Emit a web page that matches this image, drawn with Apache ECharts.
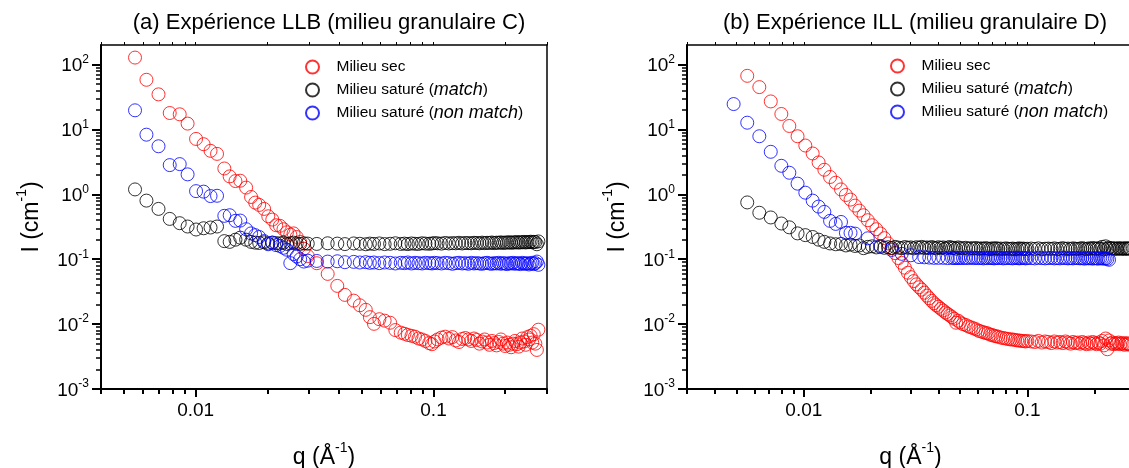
<!DOCTYPE html>
<html><head><meta charset="utf-8">
<script src="https://cdn.jsdelivr.net/npm/echarts@6/dist/echarts.min.js"></script>
<style>html,body{margin:0;padding:0;background:#fff}#c{width:1129px;height:468px}</style>
</head><body><div id="c"></div>
<script>
// ---------- DATA ----------
const seriesNames = ['Milieu sec', 'Milieu saturé (match)', 'Milieu saturé (non match)'];
const panelTitles = ['(a) Expérience LLB (milieu granulaire C)', '(b) Expérience ILL (milieu granulaire D)'];

// Panel (a) LLB : q (Å^-1)
const qA = [
  0.00556, 0.00621, 0.00698, 0.00778, 0.00857, 0.00925, 0.01004, 0.0108, 0.01155, 0.0123,
  0.0132, 0.0139, 0.0147, 0.0154, 0.0163, 0.0171, 0.0178, 0.0185, 0.0194, 0.0202,
  0.0210, 0.0218, 0.0226, 0.0234, 0.0242, 0.0250, 0.0258, 0.0266, 0.0275, 0.0285,
  0.0296,
  0.0323, 0.0359, 0.0394, 0.0424, 0.0462, 0.0490, 0.0519, 0.0540, 0.0562, 0.0592,
  0.0623, 0.0657, 0.0691, 0.0728, 0.0755, 0.0780, 0.0808, 0.0836, 0.0865, 0.0895,
  0.0925, 0.0959, 0.0985, 0.1010,
  0.104, 0.108, 0.112, 0.116, 0.120, 0.124, 0.128, 0.132, 0.136, 0.140,
  0.144, 0.148, 0.152, 0.156, 0.160, 0.164, 0.168, 0.172, 0.176, 0.180,
  0.184, 0.188, 0.192, 0.196, 0.200, 0.204, 0.208, 0.212, 0.216, 0.220,
  0.224, 0.228, 0.232, 0.236, 0.240, 0.244, 0.248, 0.252, 0.256, 0.260,
  0.264, 0.268, 0.272, 0.276
];
const secA = [
  128, 58.2, 34.7, 17.9, 17.1, 12.3, 7.14, 5.92, 4.68, 4.2,
  2.5, 1.89, 1.6, 1.62, 1.27, 0.91, 0.745, 0.686, 0.596, 0.459,
  0.408, 0.334, 0.327, 0.29, 0.26, 0.24, 0.25, 0.22, 0.185, 0.145,
  0.112,
  0.0868, 0.0594, 0.0388, 0.0282, 0.023, 0.0195, 0.0166, 0.0128, 0.0101, 0.0119,
  0.0113, 0.0105, 0.0081, 0.0074, 0.0071, 0.0068, 0.0066, 0.0064, 0.0060, 0.0058,
  0.0055, 0.0051, 0.0049, 0.0054,
  0.0058, 0.0062, 0.0064, 0.0060, 0.0063, 0.0056, 0.0053, 0.0059, 0.0061, 0.0058,
  0.0055, 0.0060, 0.0057, 0.0050, 0.0054, 0.0058, 0.0052, 0.0048, 0.0055, 0.0051,
  0.0047, 0.0053, 0.0058, 0.0050, 0.0046, 0.0052, 0.0048, 0.0044, 0.0050, 0.0055,
  0.0049, 0.0045, 0.0052, 0.0060, 0.0054, 0.0048, 0.0063, 0.0058, 0.0066, 0.0052,
  0.0070, 0.0050, 0.0040, 0.0082
];
const matchA = [
  1.19, 0.80, 0.596, 0.418, 0.359, 0.319, 0.287, 0.30, 0.308, 0.319,
  0.19, 0.185, 0.20, 0.215, 0.20, 0.185, 0.18, 0.178, 0.182, 0.175,
  0.18, 0.177, 0.175, 0.18, 0.172, 0.176, 0.18, 0.175, 0.172, 0.176,
  0.174,
  0.172, 0.176, 0.174, 0.171, 0.175, 0.173, 0.170, 0.174, 0.172, 0.175,
  0.171, 0.173, 0.176, 0.172, 0.174, 0.171, 0.175, 0.173, 0.172, 0.176,
  0.174, 0.173, 0.175, 0.177,
  0.176, 0.174, 0.178, 0.175, 0.177, 0.176, 0.179, 0.175, 0.178, 0.177,
  0.176, 0.179, 0.178, 0.176, 0.180, 0.177, 0.179, 0.178, 0.181, 0.177,
  0.180, 0.179, 0.182, 0.178, 0.181, 0.180, 0.183, 0.179, 0.182, 0.181,
  0.184, 0.180, 0.183, 0.182, 0.185, 0.181, 0.184, 0.183, 0.186, 0.182,
  0.185, 0.184, 0.170, 0.188
];
const nonA = [
  19.7, 8.3, 5.5, 2.82, 2.92, 2.03, 1.12, 1.10, 0.94, 0.95,
  0.466, 0.476, 0.39, 0.394, 0.29, 0.25, 0.235, 0.22, 0.19, 0.17,
  0.18, 0.165, 0.16, 0.15, 0.14, 0.087, 0.12, 0.11, 0.10, 0.092,
  0.095,
  0.094, 0.092, 0.093, 0.090, 0.091, 0.089, 0.090, 0.088, 0.089, 0.087,
  0.089, 0.088, 0.086, 0.088, 0.087, 0.089, 0.086, 0.088, 0.087, 0.086,
  0.088, 0.087, 0.086, 0.088,
  0.087, 0.086, 0.088, 0.087, 0.085, 0.087, 0.088, 0.086, 0.087, 0.085,
  0.088, 0.086, 0.087, 0.086, 0.085, 0.087, 0.088, 0.086, 0.085, 0.087,
  0.086, 0.088, 0.085, 0.087, 0.086, 0.084, 0.087, 0.086, 0.088, 0.085,
  0.087, 0.086, 0.084, 0.088, 0.086, 0.085, 0.087, 0.083, 0.086, 0.088,
  0.084, 0.087, 0.092, 0.082
];

// Panel (b) ILL : q (Å^-1)
const qB = [
  0.00485, 0.00558, 0.00632, 0.00711, 0.00793, 0.00861, 0.00937, 0.01015, 0.01095, 0.01164,
  0.01235, 0.0131, 0.01388, 0.01466, 0.01542, 0.01617, 0.01695, 0.0177, 0.01849, 0.01932,
  0.0202, 0.0211, 0.0220, 0.0229,
  0.0238, 0.0247, 0.0256, 0.0265, 0.0274, 0.0283, 0.0292, 0.0301, 0.0310, 0.0319,
  0.0328, 0.0337, 0.0346, 0.0355, 0.0364, 0.0373, 0.0382, 0.0391, 0.0400, 0.0410,
  0.0420, 0.0430, 0.0440, 0.0450, 0.0460, 0.0470, 0.0480, 0.0490, 0.0500,
  0.0515, 0.0530, 0.0545, 0.0560, 0.0575, 0.0590, 0.0605, 0.0620, 0.0635, 0.0650,
  0.0665, 0.0680, 0.0695, 0.0710, 0.0725, 0.0740, 0.0760, 0.0780, 0.0800, 0.0820,
  0.0840, 0.0860, 0.0880, 0.0900, 0.0920, 0.0940, 0.0960, 0.0980, 0.1000,
  0.104, 0.108, 0.112, 0.116, 0.120, 0.124, 0.128, 0.132, 0.136, 0.140,
  0.144, 0.148, 0.152, 0.156, 0.160, 0.164, 0.168, 0.172, 0.176, 0.180,
  0.184, 0.188, 0.192, 0.196, 0.200, 0.204, 0.208, 0.212, 0.216, 0.220,
  0.224, 0.228, 0.232, 0.236, 0.240, 0.244, 0.248, 0.252, 0.256, 0.260,
  0.264, 0.268, 0.272, 0.276, 0.280, 0.284, 0.288
];
const secB = [
  null, 67, 44.9, 27, 17.3, 11.3, 7.85, 5.65, 4.26, 3.1,
  2.39, 1.85, 1.51, 1.19, 0.977, 0.83, 0.67, 0.561, 0.476, 0.399,
  0.334, 0.29, 0.249, 0.211,
  0.175, 0.148, 0.124, 0.104, 0.088, 0.074, 0.062, 0.053, 0.046, 0.041,
  0.037, 0.034, 0.0305, 0.0275, 0.025, 0.0228, 0.021, 0.0196, 0.0185, 0.0172,
  0.0162, 0.0151, 0.0143, 0.0136, 0.0128, 0.0121, 0.0105, 0.0113, 0.0106,
  0.0100, 0.0097, 0.0092, 0.0089, 0.0086, 0.0083, 0.0079, 0.0077, 0.0075, 0.0073,
  0.0072, 0.0069, 0.0068, 0.0066, 0.0065, 0.0064, 0.0062, 0.0061, 0.0060, 0.0059,
  0.0058, 0.0058, 0.0057, 0.0056, 0.0056, 0.0055, 0.0055, 0.0054, 0.0055,
  0.0054, 0.0053, 0.0055, 0.0052, 0.0054, 0.0053, 0.0051, 0.0054, 0.0052, 0.0053,
  0.0051, 0.0054, 0.0052, 0.0050, 0.0053, 0.0051, 0.0052, 0.0050, 0.0053, 0.0051,
  0.0049, 0.0052, 0.0050, 0.0053, 0.0051, 0.0049, 0.0052, 0.0050, 0.0055, 0.0047,
  0.0060, 0.0041, 0.0056, 0.0050, 0.0052, 0.0049, 0.0051, 0.0050, 0.0052, 0.0049,
  0.0051, 0.0050, 0.0048, 0.0051, 0.0049, 0.0050, 0.0048
];
const matchB = [
  null, 0.75, 0.52, 0.44, 0.355, 0.31, 0.25, 0.235, 0.22, 0.20,
  0.185, 0.175, 0.17, 0.172, 0.163, 0.168, 0.16, 0.163, 0.148, 0.155,
  0.158, 0.152, 0.155, 0.15,
  0.153, 0.149, 0.155, 0.151, 0.148, 0.154, 0.150, 0.152, 0.147, 0.153,
  0.150, 0.155, 0.149, 0.152, 0.148, 0.154, 0.150, 0.147, 0.153, 0.149,
  0.152, 0.146, 0.151, 0.154, 0.148, 0.150, 0.145, 0.152, 0.148,
  0.147, 0.150, 0.145, 0.148, 0.146, 0.149, 0.144, 0.147, 0.145, 0.148,
  0.146, 0.143, 0.147, 0.145, 0.148, 0.144, 0.146, 0.143, 0.147, 0.145,
  0.144, 0.146, 0.143, 0.145, 0.147, 0.144, 0.146, 0.143, 0.145,
  0.146, 0.144, 0.147, 0.143, 0.145, 0.146, 0.144, 0.147, 0.143, 0.145,
  0.148, 0.144, 0.146, 0.143, 0.147, 0.145, 0.144, 0.146, 0.148, 0.145,
  0.143, 0.147, 0.145, 0.149, 0.146, 0.144, 0.148, 0.145, 0.155, 0.142,
  0.158, 0.145, 0.150, 0.146, 0.148, 0.145, 0.147, 0.144, 0.148, 0.146,
  0.145, 0.147, 0.144, 0.148, 0.145, 0.146, 0.147
];
const nonB = [
  24.6, 12.7, 7.85, 4.52, 2.75, 2.15, 1.46, 1.06, 0.80, 0.647,
  0.536, 0.39, 0.35, 0.375, 0.255, 0.255, 0.248, null, null, 0.21,
  null, null, 0.16, null,
  null, 0.139, null, null, 0.121, null, null, 0.115, null, null,
  0.108, null, 0.107, null, 0.106, null, 0.105, null, 0.105, null,
  0.105, null, 0.104, null, 0.105, 0.104, 0.105, 0.104, 0.105,
  0.104, 0.105, 0.104, 0.106, 0.104, 0.105, 0.104, 0.105, 0.103, 0.105,
  0.104, 0.105, 0.104, 0.103, 0.105, 0.104, 0.105, 0.103, 0.104, 0.105,
  0.104, 0.103, 0.105, 0.104, 0.103, 0.104, 0.105, 0.103, 0.104,
  0.104, 0.103, 0.105, 0.104, 0.103, 0.104, 0.105, 0.103, 0.104, 0.103,
  0.105, 0.104, 0.103, 0.104, 0.103, 0.105, 0.104, 0.103, 0.104, 0.102,
  0.104, 0.103, 0.104, 0.102, 0.104, 0.103, 0.102, 0.104, 0.103, 0.102,
  0.103, 0.101, 0.098, null, null, null, null, null, null, null,
  null, null, null, null, null, null, null
];

// Axis ticks
const yMajor = [0.001, 0.01, 0.1, 1, 10, 100];
const xMajor = [0.01, 0.1];
const xLabels = ['0.01', '0.1'];
const xRangeA = [0.004, 0.3];
const xRangeB = [0.003, 0.3];
const yRange = [0.001, 200];

// ---------- CHART ----------
function minorTicks(lo, hi) {
  const out = [];
  for (let e = -4; e <= 3; e++) {
    for (let m = 2; m <= 9; m++) {
      const v = +(m * Math.pow(10, e)).toPrecision(3);
      if (v >= lo - 1e-12 && v <= hi + 1e-12) out.push(v);
    }
  }
  return out;
}
function pairs(q, v) {
  const out = [];
  const n = Math.min(q.length, v.length);
  for (let i = 0; i < n; i++) if (v[i] != null) out.push([q[i], v[i]]);
  return out;
}
const colors = ['#ff0000', '#000000', '#0000ff'];
const FONT = '"Liberation Sans", Arial, Helvetica, sans-serif';
const grids = [
  { left: 101, top: 45, width: 446, height: 344, outerBoundsMode: 'none', containLabel: false },
  { left: 687, top: 45, width: 447, height: 344, outerBoundsMode: 'none', containLabel: false }
];
const xRanges = [xRangeA, xRangeB];
const supRich = {
  b: { fontSize: 19, fontFamily: FONT, color: '#000', lineHeight: 22, verticalAlign: 'bottom', padding: [3, 0, 0, 0] },
  s: { fontSize: 12, fontFamily: FONT, color: '#000', lineHeight: 12, verticalAlign: 'top' }
};
const nameRich = {
  t: { fontSize: 23, fontFamily: FONT, color: '#000', lineHeight: 28, verticalAlign: 'bottom' },
  s: { fontSize: 14, fontFamily: FONT, color: '#000', lineHeight: 14, verticalAlign: 'top' }
};

const xAxes = [], yAxes = [], series = [], titles = [], legends = [];
grids.forEach((g, gi) => {
  const [xmin, xmax] = xRanges[gi];
  const xMin = minorTicks(xmin, xmax).concat([xmin]);
  const yMin = minorTicks(yRange[0], 100);
  const base = { gridIndex: gi, type: 'log', logBase: 10, min: xmin, max: xmax, splitLine: { show: false } };
  xAxes.push(Object.assign({}, base, {
    position: 'bottom',
    axisLine: { show: true, lineStyle: { color: '#000', width: 2 } },
    axisTick: { show: true, customValues: xMajor, length: 8, lineStyle: { color: '#000', width: 2 } },
    axisLabel: { show: true, customValues: xMajor, margin: 12, color: '#000', fontSize: 19, fontFamily: FONT,
      formatter: v => xLabels[xMajor.findIndex(m => Math.abs(m - v) < 1e-9)] || '' },
    name: '{t|q (Å}{s|-1}{t|)}', nameLocation: 'middle', nameGap: 52,
    nameTextStyle: { rich: nameRich }
  }));
  xAxes.push(Object.assign({}, base, {
    position: 'bottom',
    axisLine: { show: false },
    axisTick: { show: true, customValues: xMin, length: 5, lineStyle: { color: '#000', width: 2 } },
    axisLabel: { show: false }
  }));
  xAxes.push(Object.assign({}, base, {
    position: 'top',
    axisLine: { show: true, lineStyle: { color: '#000', width: 1.5 } },
    axisTick: { show: true, customValues: xMajor.concat(xMin), length: 3, lineStyle: { color: '#000', width: 1 } },
    axisLabel: { show: false }
  }));
  const ybase = { gridIndex: gi, type: 'log', logBase: 10, min: yRange[0], max: yRange[1], splitLine: { show: false } };
  yAxes.push(Object.assign({}, ybase, {
    position: 'left',
    axisLine: { show: true, lineStyle: { color: '#000', width: 2 } },
    axisTick: { show: true, customValues: yMajor, length: 9, lineStyle: { color: '#000', width: 2 } },
    axisLabel: { show: true, customValues: yMajor, margin: 12, formatter: v => '{b|10}{s|' + Math.round(Math.log10(v)) + '}', rich: supRich },
    name: '{t|I (cm}{s|-1}{t|)}', nameLocation: 'middle', nameGap: 58, nameRotate: 90,
    nameTextStyle: { rich: nameRich }
  }));
  yAxes.push(Object.assign({}, ybase, {
    position: 'left',
    axisLine: { show: false },
    axisTick: { show: true, customValues: yMin, length: 5, lineStyle: { color: '#000', width: 1.5 } },
    axisLabel: { show: false }
  }));
  yAxes.push(Object.assign({}, ybase, {
    position: 'right',
    axisLine: { show: true, lineStyle: { color: '#000', width: 1.5 } },
    axisTick: { show: false },
    axisLabel: { show: false }
  }));
  titles.push({
    text: panelTitles[gi], left: g.left + g.width / 2 - (gi === 1 ? 0.5 : 0), textAlign: 'center', top: 7,
    textStyle: { fontSize: 22, fontWeight: 'normal', color: '#000', fontFamily: FONT }
  });
  legends.push({
    orient: 'vertical', left: gi === 0 ? 300 : 885, top: gi === 0 ? 53 : 52,
    itemWidth: 38, itemHeight: 13, itemGap: 5, icon: 'circle',
    data: seriesNames,
    formatter: n => n.replace('(match)', '({i|match})').replace('(non match)', '({i|non match})'),
    textStyle: { fontSize: 15.5, fontFamily: FONT, color: '#000', lineHeight: 18,
      rich: { i: { fontStyle: 'italic', fontSize: 18, fontFamily: FONT, color: '#000', lineHeight: 18 } } }
  });
});

const dataSets = [[secA, matchA, nonA], [secB, matchB, nonB]];
const qs = [qA, qB];
dataSets.forEach((sets, gi) => {
  sets.forEach((vals, si) => {
    series.push({
      type: 'scatter', name: seriesNames[si], xAxisIndex: gi * 3, yAxisIndex: gi * 3,
      symbol: 'circle', symbolSize: 13, silent: true,
      itemStyle: { color: 'rgba(255,255,255,0)', borderColor: colors[si], borderWidth: 1 },
      data: pairs(qs[gi], vals)
    });
  });
});

const chart = echarts.init(document.getElementById('c'), null, { renderer: 'canvas' });
chart.setOption({
  animation: false,
  backgroundColor: '#fff',
  textStyle: { fontFamily: FONT },
  title: titles,
  legend: legends,
  grid: grids,
  xAxis: xAxes,
  yAxis: yAxes,
  series: series
});
</script></body></html>
